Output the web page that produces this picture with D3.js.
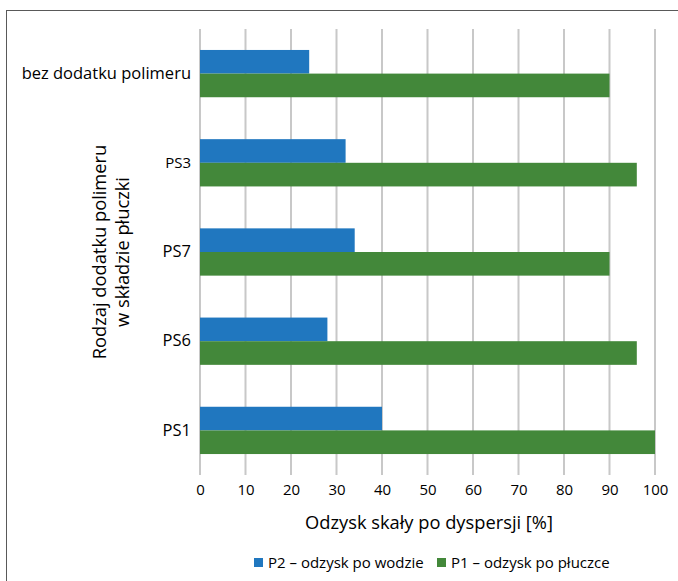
<!DOCTYPE html>
<html>
<head>
<meta charset="utf-8">
<script src="https://cdn.jsdelivr.net/npm/d3@7"></script>
<style>
  html, body { margin: 0; padding: 0; background: #fff; }
  svg { display: block; font-family: "Open Sans", Lato, sans-serif; }
</style>
</head>
<body>
<svg id="chart" width="678" height="581"></svg>
<script>
// Polymer additive types (top to bottom)
const categories = ["bez dodatku polimeru", "PS3", "PS7", "PS6", "PS1"];
// P2 – recovery after water
const p2Values = [24, 32, 34, 28, 40];
// P1 – recovery after drilling fluid
const p1Values = [90, 96, 90, 96, 100];
const xTicks = [0, 10, 20, 30, 40, 50, 60, 70, 80, 90, 100];
const seriesNames = ["P2 – odzysk po wodzie", "P1 – odzysk po płuczce"];
const seriesColors = ["#2077bf", "#43883a"];

const font = "'Open Sans', Lato, sans-serif";
const svg = d3.select("#chart");

// outer frame
svg.append("rect")
  .attr("x", 6.5).attr("y", 10.5)
  .attr("width", 700).attr("height", 600)
  .attr("fill", "none").attr("stroke", "#595959").attr("stroke-width", 1);

const plot = { left: 200, right: 655, top: 29, bottom: 475 };

const x = d3.scaleLinear().domain([0, 100]).range([plot.left, plot.right]);
const y = d3.scaleBand().domain(categories).range([plot.top, plot.bottom]).paddingInner(0.47).paddingOuter(0.235);
const ySub = d3.scaleBand().domain([0, 1]).range([0, y.bandwidth()]);

// vertical gridlines
svg.append("g").selectAll("line").data(xTicks).join("line")
  .attr("x1", d => x(d)).attr("x2", d => x(d))
  .attr("y1", plot.top).attr("y2", plot.bottom)
  .attr("stroke", "#c8c8c8").attr("stroke-width", 2);

// bars
const rows = categories.map((c, i) => ({ cat: c, vals: [p2Values[i], p1Values[i]] }));
const groups = svg.append("g").selectAll("g").data(rows).join("g")
  .attr("transform", d => `translate(0,${y(d.cat)})`);
groups.selectAll("rect").data(d => d.vals.map((v, k) => ({ v, k }))).join("rect")
  .attr("x", x(0))
  .attr("y", d => ySub(d.k))
  .attr("width", d => x(d.v) - x(0))
  .attr("height", ySub.bandwidth())
  .attr("fill", d => seriesColors[d.k]);

// category labels
const yAxis = d3.axisLeft(y).tickSize(0).tickPadding(9);
const gy = svg.append("g").attr("transform", `translate(${plot.left},0)`).call(yAxis);
gy.select(".domain").remove();
gy.selectAll("text")
  .attr("font-family", font)
  .attr("font-size", d => d === "PS3" ? 15 : 16.5)
  .attr("fill", "#000");

// x axis labels
const xAxis = d3.axisBottom(x).tickValues(xTicks).tickSize(0).tickPadding(9);
const gx = svg.append("g").attr("transform", `translate(0,${plot.bottom})`).call(xAxis);
gx.select(".domain").remove();
gx.selectAll("text")
  .attr("font-family", font)
  .attr("font-size", 15).attr("fill", "#000");

// axis titles
svg.append("text")
  .attr("x", 429).attr("y", 529)
  .attr("text-anchor", "middle").attr("font-size", 18.3).attr("fill", "#000")
  .text("Odzysk skały po dyspersji [%]");

const yt = svg.append("text")
  .attr("transform", "translate(0,252) rotate(-90)")
  .attr("text-anchor", "middle").attr("font-size", 18.3).attr("fill", "#000");
yt.append("tspan").attr("x", 0).attr("y", 106).text("Rodzaj dodatku polimeru");
yt.append("tspan").attr("x", 0).attr("y", 129).text("w składzie płuczki");

// legend
const legend = svg.append("g").attr("transform", "translate(0,562.5)");
const legendX = [254, 437];
seriesNames.forEach((name, k) => {
  legend.append("rect")
    .attr("x", legendX[k]).attr("y", -4.5)
    .attr("width", 9).attr("height", 9)
    .attr("fill", seriesColors[k]);
  legend.append("text")
    .attr("x", legendX[k] + 14).attr("y", 0)
    .attr("dy", "0.35em").attr("font-size", 15).attr("fill", "#000")
    .text(name);
});
</script>
</body>
</html>
